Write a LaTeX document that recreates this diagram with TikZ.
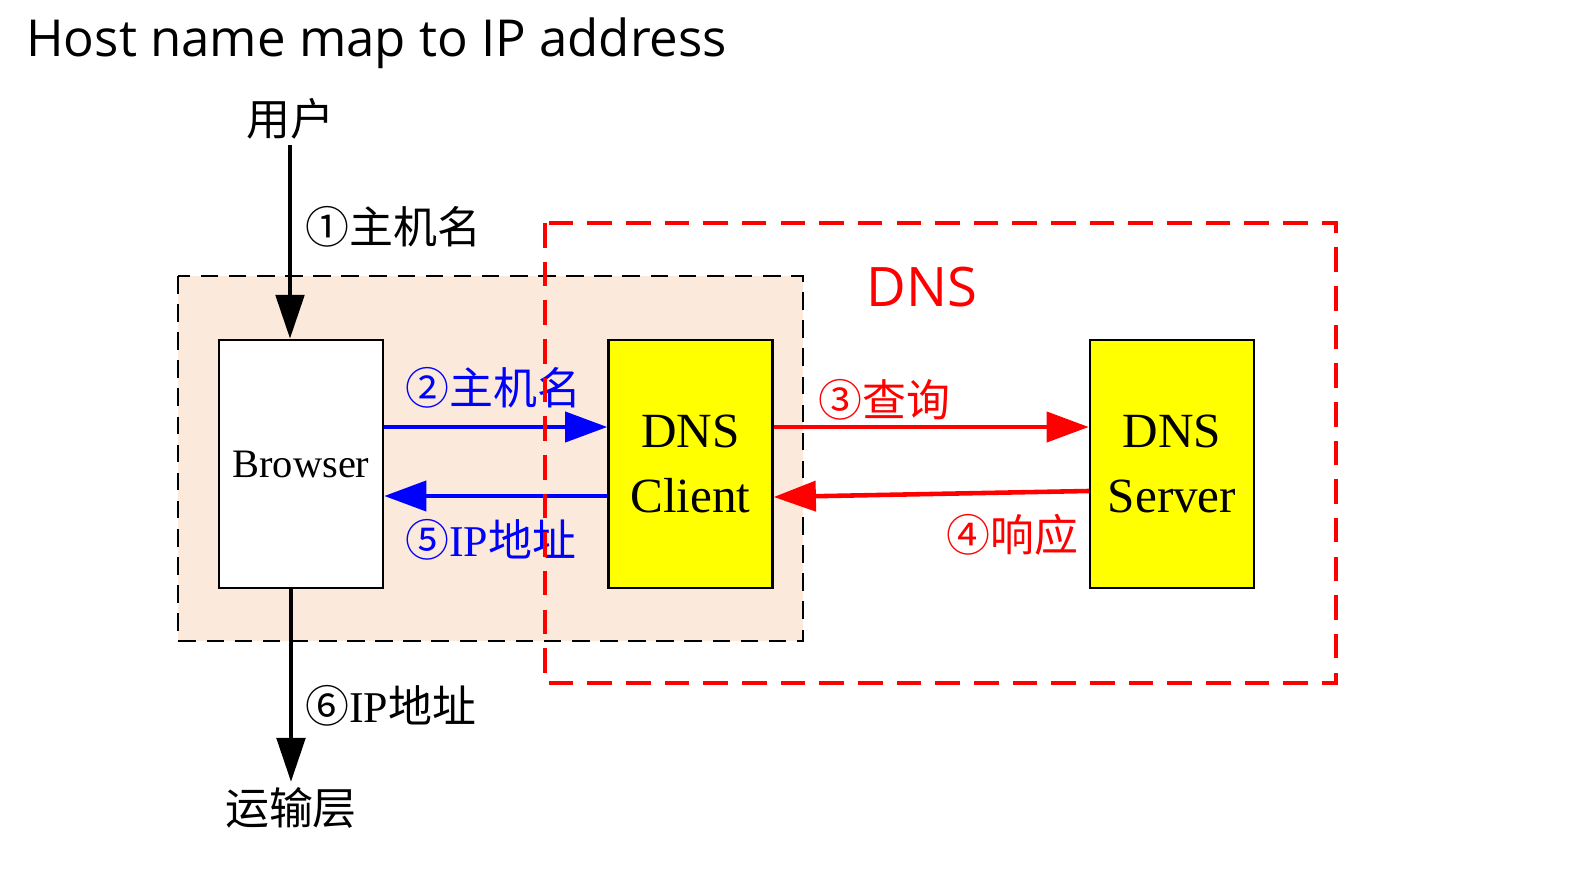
\documentclass[tikz,border=0pt]{standalone}
\usepackage{fontspec}
\setmainfont{Liberation Serif}
\newfontfamily\cjk{Noto Sans CJK SC}
\newfontfamily\comic{Open Sans}
\usetikzlibrary{calc,arrows.meta}
\definecolor{beige}{RGB}{251,233,219}
\definecolor{boxyellow}{RGB}{255,255,0}
\definecolor{lblue}{RGB}{0,0,255}
\definecolor{lred}{RGB}{255,0,0}
\tikzset{
  box/.style={draw,line width=1.4pt,minimum width=3.28cm,minimum height=4.96cm,inner sep=0pt},
  lbl/.style={anchor=west,inner sep=0pt,font=\fontsize{25}{29}\selectfont},
  blackarrow/.style={line width=2.8pt,-{Triangle[length=25pt,width=16pt]}},
  bluearrow/.style={lblue,line width=2.6pt,-{Triangle[length=24pt,width=17pt]}},
  redarrow/.style={lred,line width=2.6pt,-{Triangle[length=24pt,width=17pt]}}
}
\begin{document}
\begin{tikzpicture}[x=0.02cm,y=-0.02cm]
    \useasboundingbox (0,0) rectangle (1576,892);
    \fill[beige] (178,276) rectangle (803,641);
    \draw[line width=1.5pt,dash pattern=on 10pt off 6pt] (178,276) rectangle (803,641);
    \node[anchor=base west,inner sep=0pt,font=\comic\fontsize{29}{33}\selectfont] (title) at (26,57) {Host name map to IP address};
    \node[box,fill=white,font=\fontsize{23}{27}\selectfont] (browser) at (301,464) {Browser};
    \node[box,fill=boxyellow,align=center,font=\fontsize{28}{37}\selectfont] (client) at (690.5,464) {DNS\\Client};
    \node[box,fill=boxyellow,align=center,font=\fontsize{28}{37}\selectfont] (server) at (1172,464) {DNS\\Server};
    \node[inner sep=3pt,font=\cjk\fontsize{25}{29}\selectfont] (user) at (290,119) {用户};
    \node[inner sep=3pt,font=\cjk\fontsize{25}{29}\selectfont] (transport) at (291,808) {运输层};
    \node[lred,inner sep=0pt,font=\comic\fontsize{31}{35}\selectfont] (dns) at (922,287) {DNS};
    \draw[blackarrow] (user.south) -- (user.south |- browser.north);
    \draw[blackarrow] (browser.south -| transport.north) -- (transport.north);
    \draw[bluearrow] ([yshift=0.74cm]browser.east) -- ([yshift=0.74cm]client.west);
    \draw[bluearrow] ([yshift=-0.64cm]client.west) -- ([yshift=-0.64cm]browser.east);
    \draw[redarrow] ([yshift=0.74cm]client.east) -- ([yshift=0.74cm]server.west);
    \draw[redarrow] ([yshift=-0.54cm]server.west) -- ([yshift=-0.66cm]client.east);
    \node[lbl] (l1) at (305,227) {\cjk ①主机名};
    \node[lbl,lblue] (l2) at (405,388) {\cjk ②主机名};
    \node[lbl,lred] (l3) at (818,400) {\cjk ③查询};
    \node[lbl,lred] (l4) at (946,535) {\cjk ④响应};
    \node[lbl,lblue] (l5) at (405,540) {{\cjk ⑤}IP{\cjk 地址}};
    \node[lbl] (l6) at (305,706) {{\cjk ⑥}IP{\cjk 地址}};
    \draw[lred,line width=2.6pt,dash pattern=on 14pt off 8pt] (545,223) rectangle (1336,683);
\end{tikzpicture}
\end{document}
